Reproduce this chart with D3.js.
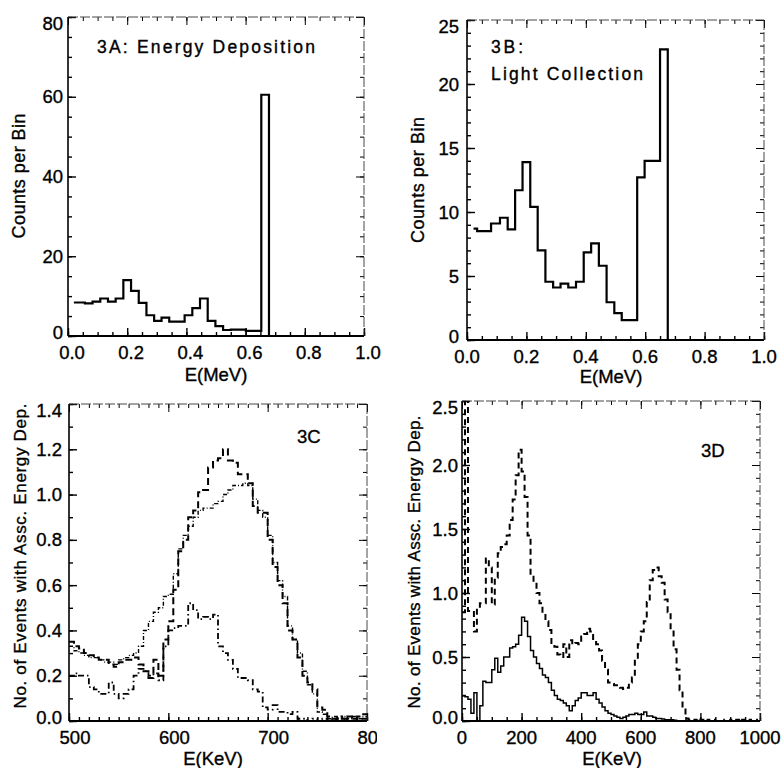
<!DOCTYPE html>
<html>
<head>
<meta charset="utf-8">
<script src="https://cdn.jsdelivr.net/npm/d3@7"></script>
<style>
  body { margin: 0; background: #fff; }
  svg { display: block; }
  text { font-family: "Liberation Sans", Arial, Helvetica, sans-serif; fill: #000; stroke: #000; stroke-width: 0.35px; }
</style>
</head>
<body>
<div id="chart"></div>
<script>
// ---- data ----

// 3A: energy deposition histogram (bin edges in MeV, counts per bin)
const edgesA = [0.020, 0.057, 0.083, 0.109, 0.135, 0.161, 0.187, 0.213, 0.239, 0.265, 0.291, 0.316, 0.342,
  0.368, 0.394, 0.420, 0.446, 0.472, 0.498, 0.524, 0.550, 0.576, 0.601, 0.627, 0.653, 0.679]
const countsA = [8.4, 8.2, 8.6, 9.4, 8.6, 9.4, 14.0, 11.3, 8.3, 5.2, 3.8, 4.6, 3.6, 3.6, 5.2, 7.0, 9.4,
  3.8, 2.5, 1.5, 1.6, 1.6, 1.3, 1.3, 60.5]

// 3B: light collection histogram
const edgesB = [0.022, 0.034, 0.081, 0.111, 0.137, 0.162, 0.187, 0.213, 0.238, 0.264, 0.290, 0.315, 0.341,
  0.367, 0.393, 0.418, 0.444, 0.470, 0.496, 0.521, 0.573, 0.598, 0.624, 0.650, 0.676]
const countsB = [8.7, 8.5, 9.1, 9.55, 8.65, 11.7, 13.9, 10.4, 7.0, 4.55, 4.1, 4.4, 4.1, 4.55, 6.85, 7.55,
  5.8, 2.95, 2.1, 1.55, 12.7, 14.0, 14.0, 22.7]

// 3C: 5 keV bins starting at 500 keV
const binStartC = 500
const binWidthC = 5
const cDash = [0.35, 0.33, 0.32, 0.30, 0.29, 0.28, 0.27, 0.27, 0.25, 0.24,
  0.26, 0.27, 0.27, 0.28, 0.25, 0.22, 0.19, 0.27, 0.20, 0.36,
  0.44, 0.58, 0.75, 0.80, 0.90, 0.93, 1.01, 1.02, 1.12, 1.15,
  1.16, 1.20, 1.15, 1.14, 1.09, 1.09, 1.05, 0.95, 0.92, 0.92,
  0.80, 0.68, 0.60, 0.52, 0.40, 0.36, 0.28, 0.20, 0.17, 0.14,
  0.06, 0.05, 0.02, 0.01, 0.02, 0.01, 0.02, 0.01, 0.02, 0.03]
const cDot = [0.33, 0.31, 0.30, 0.29, 0.28, 0.28, 0.27, 0.26, 0.26, 0.25,
  0.27, 0.28, 0.29, 0.30, 0.33, 0.40, 0.44, 0.48, 0.50, 0.55,
  0.56, 0.65, 0.76, 0.82, 0.86, 0.90, 0.93, 0.94, 0.94, 0.96,
  0.97, 1.00, 1.02, 1.04, 1.04, 1.05, 1.04, 0.98, 0.93, 0.90,
  0.82, 0.70, 0.62, 0.55, 0.42, 0.36, 0.30, 0.22, 0.16, 0.12,
  0.04, 0.03, 0.01, 0.02, 0.01, 0.02, 0.01, 0.02, 0.01, 0.02]
const cLow = [0.20, 0.21, 0.20, 0.20, 0.15, 0.14, 0.12, 0.12, 0.17, 0.12,
  0.10, 0.12, 0.14, 0.20, 0.23, 0.22, 0.20, 0.21, 0.18, 0.33,
  0.40, 0.41, 0.42, 0.42, 0.52, 0.49, 0.45, 0.46, 0.45, 0.47,
  0.33, 0.30, 0.27, 0.23, 0.19, 0.19, 0.18, 0.14, 0.13, 0.06,
  0.05, 0.07, 0.04, 0.04, 0.03, 0.04, 0.01, 0.01, 0.00, 0.01,
  0.00, 0.01, 0.00, 0.01, 0.00, 0.01, 0.00, 0.01, 0.00, 0.01]

// 3D: 10 keV bins starting at 0 keV
const binStartD = 0
const binWidthD = 10
const dSolid = [0.20, 0.19, 0.17, 0.06, 0.22, 0.00, 0.12, 0.31, 0.30, 0.30,
  0.40, 0.49, 0.38, 0.43, 0.50, 0.50, 0.57, 0.58, 0.60, 0.67,
  0.81, 0.78, 0.66, 0.55, 0.50, 0.45, 0.41, 0.36, 0.34, 0.30,
  0.24, 0.20, 0.17, 0.16, 0.14, 0.12, 0.08, 0.12, 0.16, 0.18,
  0.22, 0.22, 0.20, 0.20, 0.22, 0.17, 0.14, 0.11, 0.08, 0.06,
  0.05, 0.04, 0.03, 0.02, 0.03, 0.04, 0.05, 0.05, 0.06, 0.05,
  0.05, 0.07, 0.04, 0.04, 0.03, 0.02, 0.02, 0.015, 0.01, 0.01,
  0.01, 0.005, 0, 0, 0, 0, 0, 0, 0, 0,
  0, 0, 0, 0, 0, 0, 0, 0, 0, 0,
  0, 0, 0, 0, 0, 0, 0, 0, 0, 0]
const dDash = [0.85, 2.80, 0.86, 0.86, 0.70, 0.87, 0.92, 0.92, 1.27, 1.20,
  0.91, 1.12, 1.31, 1.36, 1.38, 1.45, 1.57, 1.73, 1.92, 2.12,
  1.95, 1.75, 1.45, 1.15, 1.08, 1.00, 0.92, 0.84, 0.78, 0.71,
  0.60, 0.58, 0.52, 0.50, 0.60, 0.50, 0.63, 0.60, 0.61, 0.60,
  0.66, 0.68, 0.72, 0.70, 0.63, 0.60, 0.55, 0.47, 0.40, 0.30,
  0.29, 0.28, 0.27, 0.26, 0.25, 0.26, 0.30, 0.34, 0.48, 0.60,
  0.70, 0.78, 0.93, 1.10, 1.18, 1.20, 1.13, 1.08, 0.95, 0.85,
  0.70, 0.56, 0.40, 0.24, 0.10, 0.02, 0.01, 0.00, 0.01, 0.02,
  0.01, 0.00, 0.01, 0.00, 0.01, 0.00, 0.01, 0.00, 0.01, 0.00,
  0.01, 0.00, 0.01, 0.00, 0.01, 0.00, 0.01, 0.00, 0.01, 0.00]

// tick labels
const ticksMeV = [0, 0.2, 0.4, 0.6, 0.8, 1.0]
const ticksA = [0, 20, 40, 60, 80]
const ticksB = [0, 5, 10, 15, 20, 25]
const ticksCx = [500, 600, 700, 800]
const ticksCy = [0, 0.2, 0.4, 0.6, 0.8, 1.0, 1.2, 1.4]
const ticksDx = [0, 200, 400, 600, 800, 1000]
const ticksDy = [0, 0.5, 1.0, 1.5, 2.0, 2.5]


const svg = d3.select("#chart")
  .append("svg")
  .attr("width", 782)
  .attr("height", 768)

svg.append("rect").attr("width", 782).attr("height", 768).attr("fill", "#fff")

// step line through bin edges
const stepLine = (x, y) => d3.line()
  .x(function(d) { return x(d[0]) })
  .y(function(d) { return y(d[1]) })
  .curve(d3.curveStepAfter)

const binPoints = (start, width, vals) => {
  const pts = vals.map((v, i) => [start + i * width, v])
  pts.push([start + vals.length * width, vals[vals.length - 1]])
  return pts
}

// frame + inward ticks + tick labels for one panel
const drawPanel = (p) => {
  const g = svg.append("g")
  const x = d3.scaleLinear().domain(p.xDomain).range(p.xRange)
  const y = d3.scaleLinear().domain(p.yDomain).range(p.yRange)
  const [left, right] = p.xRange
  const [bottom, top] = p.yRange

  const xMinor = d3.range(p.xDomain[0], p.xDomain[1] + 1e-9, p.xMinor)
  const yMinor = d3.range(p.yDomain[0], p.yDomain[1] + 1e-9, p.yMinor)

  const tickSets = [
    [d3.axisBottom(x), `translate(0,${bottom})`, p.xTicks, xMinor],
    [d3.axisTop(x), `translate(0,${top})`, p.xTicks, xMinor],
    [d3.axisLeft(y), `translate(${left},0)`, p.yTicks, yMinor],
    [d3.axisRight(y), `translate(${right},0)`, p.yTicks, yMinor],
  ]
  tickSets.forEach(([ax, tr, major, minor], k) => {
    const w = k === 0 || k === 2 ? 1.4 : 1
    const a1 = g.append("g").attr("transform", tr)
      .call(ax.tickValues(minor).tickSize(-4).tickFormat(""))
    a1.select(".domain").remove()
    a1.selectAll("line").attr("stroke", "#000").attr("stroke-width", w)
    const a2 = g.append("g").attr("transform", tr)
      .call(ax.tickValues(major).tickSize(-8).tickFormat(""))
    a2.select(".domain").remove()
    a2.selectAll("line").attr("stroke", "#000").attr("stroke-width", w)
  })

  // frame: left/bottom heavier like the scan
  g.append("line").attr("x1", left).attr("x2", left).attr("y1", top).attr("y2", bottom)
    .attr("stroke", "#000").attr("stroke-width", 1.6)
  g.append("line").attr("x1", left).attr("x2", right).attr("y1", bottom).attr("y2", bottom)
    .attr("stroke", "#000").attr("stroke-width", 1.8)
  g.append("line").attr("x1", left).attr("x2", right).attr("y1", top).attr("y2", top)
    .attr("stroke", "#333").attr("stroke-width", 0.9).attr("stroke-dasharray", "10,2")
  g.append("line").attr("x1", right).attr("x2", right).attr("y1", top).attr("y2", bottom)
    .attr("stroke", "#333").attr("stroke-width", 0.9).attr("stroke-dasharray", "10,2")

  // tick labels
  const lab = g.append("g").style("font-size", "18.5px")
  if (p.clipRight) {
    const id = "clip-" + p.id
    svg.append("clipPath").attr("id", id).append("rect")
      .attr("x", 0).attr("y", 0).attr("width", p.clipRight).attr("height", 768)
    lab.attr("clip-path", `url(#${id})`)
  }
  lab.selectAll(".xl").data(p.xTicks).enter().append("text")
    .attr("x", d => x(d) + p.xLabelShift)
    .attr("y", bottom + 23)
    .attr("text-anchor", "middle")
    .text(p.xFmt)
  lab.selectAll(".yl").data(p.yTicks).enter().append("text")
    .attr("x", p.yLabelRight)
    .attr("y", d => Math.min(Math.max(y(d), top + 6), bottom - 4) + 6.5)
    .attr("text-anchor", "end")
    .text(p.yFmt)

  // axis titles
  g.append("text")
    .attr("x", p.xTitle[0]).attr("y", p.xTitle[1])
    .attr("text-anchor", "middle")
    .style("font-size", "18.5px")
    .text(p.xTitleText)
  g.append("text")
    .attr("transform", `translate(${p.yTitle[0]},${p.yTitle[1]}) rotate(-90)`)
    .attr("text-anchor", "middle")
    .attr("textLength", p.yTitle[2])
    .attr("lengthAdjust", "spacing")
    .style("font-size", p.yTitle[3] + "px")
    .text(p.yTitleText)

  // plot area clip
  const cid = "plot-" + p.id
  svg.append("clipPath").attr("id", cid).append("rect")
    .attr("x", left).attr("y", top).attr("width", right - left).attr("height", bottom - top)
  const plot = svg.append("g").attr("clip-path", `url(#${cid})`)

  return { x, y, plot, g }
}

const fmt1 = d => d3.format(".1f")(d)

// ---------- 3A ----------
const pA = drawPanel({
  id: "a", xDomain: [0, 1], xRange: [68, 364], yDomain: [0, 80], yRange: [336, 17],
  xTicks: ticksMeV, yTicks: ticksA, xMinor: 0.05, yMinor: 5,
  xFmt: fmt1, yFmt: d => d, xLabelShift: 4, yLabelRight: 63,
  xTitle: [216, 381], xTitleText: "E(MeV)",
  yTitle: [25, 176, 125, 18], yTitleText: "Counts per Bin",
})
{
  const pts = edgesA.slice(0, -1).map((e, i) => [e, countsA[i]])
  const last = edgesA[edgesA.length - 1]
  pts.push([last, countsA[countsA.length - 1]], [last, 0], [1, 0])
  pA.plot.append("path")
    .datum(pts)
    .attr("fill", "none")
    .attr("stroke", "#000")
    .attr("stroke-width", 2.2)
    .attr("d", stepLine(pA.x, pA.y))
  pA.g.append("text")
    .attr("x", 97).attr("y", 53)
    .attr("textLength", 218).attr("lengthAdjust", "spacing")
    .style("font-size", "17.5px")
    .text("3A: Energy Deposition")
}

// ---------- 3B ----------
const pB = drawPanel({
  id: "b", xDomain: [0, 1], xRange: [467, 764], yDomain: [0, 25], yRange: [340, 20],
  xTicks: ticksMeV, yTicks: ticksB, xMinor: 0.05, yMinor: 1,
  xFmt: fmt1, yFmt: d => d, xLabelShift: 0, yLabelRight: 459,
  xTitle: [611, 383], xTitleText: "E(MeV)",
  yTitle: [424, 180, 126, 18], yTitleText: "Counts per Bin",
})
{
  const pts = edgesB.slice(0, -1).map((e, i) => [e, countsB[i]])
  const last = edgesB[edgesB.length - 1]
  pts.push([last, countsB[countsB.length - 1]], [last, 0])
  pB.plot.append("path")
    .datum(pts)
    .attr("fill", "none")
    .attr("stroke", "#000")
    .attr("stroke-width", 2.2)
    .attr("d", stepLine(pB.x, pB.y))
  pB.g.append("text")
    .attr("x", 491).attr("y", 53)
    .attr("textLength", 32).attr("lengthAdjust", "spacing")
    .style("font-size", "17.5px")
    .text("3B:")
  pB.g.append("text")
    .attr("x", 491).attr("y", 80)
    .attr("textLength", 152).attr("lengthAdjust", "spacing")
    .style("font-size", "17.5px")
    .text("Light Collection")
}

// ---------- 3C ----------
const pC = drawPanel({
  id: "c", xDomain: [500, 800], xRange: [69, 367], yDomain: [0, 1.4], yRange: [721, 404],
  xTicks: ticksCx, yTicks: ticksCy, xMinor: 10, yMinor: 0.1,
  xFmt: d => d, yFmt: fmt1, xLabelShift: 6, yLabelRight: 62, clipRight: 377,
  xTitle: [213, 765], xTitleText: "E(KeV)",
  yTitle: [26, 556, 305, 17], yTitleText: "No. of Events with Assc. Energy Dep.",
})
{
  const series = [
    [cDash, "7,4", 2],
    [cDot, "4,2,1,2", 1.4],
    [cLow, "6,3,1.5,3", 1.8],
  ]
  series.forEach(([vals, dash, w]) => {
    pC.plot.append("path")
      .datum(binPoints(binStartC, binWidthC, vals))
      .attr("fill", "none")
      .attr("stroke", "#000")
      .attr("stroke-width", w)
      .attr("stroke-dasharray", dash)
      .attr("d", stepLine(pC.x, pC.y))
  })
  pC.g.append("text")
    .attr("x", 297).attr("y", 443)
    .style("font-size", "18.5px")
    .text("3C")
}

// ---------- 3D ----------
const pD = drawPanel({
  id: "d", xDomain: [0, 1000], xRange: [462, 760], yDomain: [0, 2.5], yRange: [721, 401],
  xTicks: ticksDx, yTicks: ticksDy, xMinor: 50, yMinor: 0.1,
  xFmt: d => d, yFmt: fmt1, xLabelShift: 0, yLabelRight: 458,
  xTitle: [612, 765], xTitleText: "E(KeV)",
  yTitle: [420, 562, 293, 17], yTitleText: "No. of Events with Assc. Energy Dep.",
})
{
  pD.plot.append("path")
    .datum(binPoints(binStartD, binWidthD, dSolid))
    .attr("fill", "none")
    .attr("stroke", "#000")
    .attr("stroke-width", 1.5)
    .attr("d", stepLine(pD.x, pD.y))
  pD.plot.append("path")
    .datum(binPoints(binStartD, binWidthD, dDash))
    .attr("fill", "none")
    .attr("stroke", "#000")
    .attr("stroke-width", 2)
    .attr("stroke-dasharray", "6,4")
    .attr("d", stepLine(pD.x, pD.y))
  pD.g.append("text")
    .attr("x", 701).attr("y", 457)
    .style("font-size", "18.5px")
    .text("3D")
}
</script>
</body>
</html>
